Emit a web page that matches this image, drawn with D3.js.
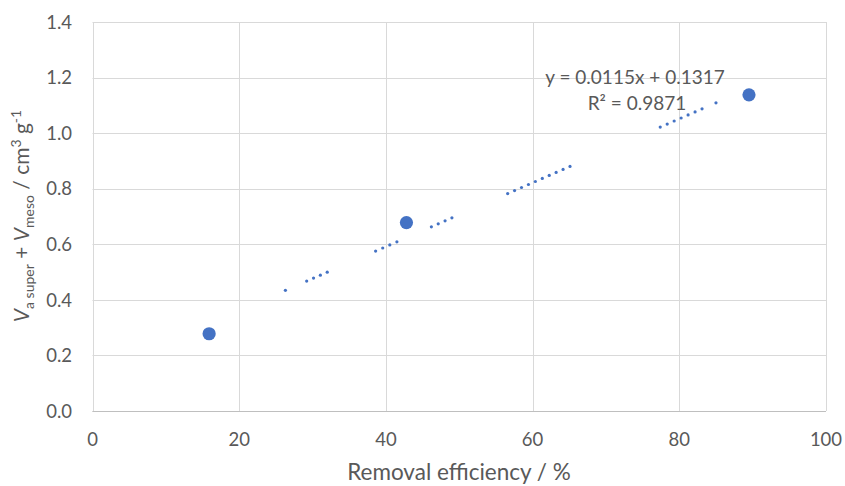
<!DOCTYPE html>
<html><head><meta charset="utf-8">
<script src="https://cdn.jsdelivr.net/npm/d3@7"></script>
<style>body{margin:0;background:#fff}svg{display:block}text{font-family:Lato,"Open Sans",sans-serif;fill:#595959}</style>
</head><body><svg id="c" width="845" height="486"></svg>
<script>
const removalEfficiency = [15.9, 42.8, 89.5];
const poreVolume = [0.278, 0.678, 1.138];
const xTicks = [0, 20, 40, 60, 80, 100];
const yTicks = [0, 0.2, 0.4, 0.6, 0.8, 1.0, 1.2, 1.4];
const trendSlope = 0.0115, trendIntercept = 0.1317;
const trendEquation = "y = 0.0115x + 0.1317";
const trendR2 = "R² = 0.9871";
// visible pieces of the dotted trendline (x ranges)
const trendSegments = [[26.3, 26.3], [29.2, 32.0], [38.6, 41.5], [46.2, 49.0], [56.6, 65.1], [77.4, 83.1], [85.0, 85.0]];

const svg = d3.select("#c");
const x = d3.scaleLinear().domain([0, 100]).range([92.5, 826]);
const y = d3.scaleLinear().domain([0, 1.4]).range([411, 22]);

// grid
svg.append("g").selectAll("line").data(yTicks).join("line")
  .attr("x1", x(0)).attr("x2", x(100)).attr("y1", d => Math.round(y(d)) + 0.5).attr("y2", d => Math.round(y(d)) + 0.5)
  .attr("stroke", "#D9D9D9").attr("stroke-width", 1);
svg.append("g").selectAll("line").data(xTicks).join("line")
  .attr("y1", y(1.4)).attr("y2", y(0)).attr("x1", d => Math.round(x(d)) + 0.5).attr("x2", d => Math.round(x(d)) + 0.5)
  .attr("stroke", "#D9D9D9").attr("stroke-width", 1);
svg.append("line").attr("x1", x(0)).attr("x2", x(100)).attr("y1", Math.round(y(0)) + 0.5).attr("y2", Math.round(y(0)) + 0.5).attr("stroke", "#BFBFBF");

// tick labels
svg.append("g").selectAll("text").data(yTicks).join("text")
  .attr("x", 72).attr("y", d => y(d)).attr("dy", "0.36em").attr("text-anchor", "end")
  .attr("font-size", 18.5).text(d => d.toFixed(1));
svg.append("g").selectAll("text").data(xTicks).join("text")
  .attr("x", d => x(d)).attr("y", 439.5).attr("dy", "0.36em").attr("text-anchor", "middle")
  .attr("font-size", 18.5).text(d => d);

// axis titles
svg.append("text").attr("x", 459).attr("y", 472).attr("dy", "0.36em").attr("text-anchor", "middle")
  .attr("font-size", 22.5).text("Removal efficiency / %");
const yt = svg.append("text").attr("transform", "translate(29,216) rotate(-90)").attr("text-anchor", "middle").attr("font-size", 21);
yt.append("tspan").attr("font-style", "italic").text("V");
yt.append("tspan").attr("font-size", 14).attr("dy", 5).text("a super");
yt.append("tspan").attr("dy", -5).text(" + ");
yt.append("tspan").attr("font-style", "italic").text("V");
yt.append("tspan").attr("font-size", 14).attr("dy", 5).text("meso");
yt.append("tspan").attr("dy", -5).text(" / cm");
yt.append("tspan").attr("font-size", 14).attr("dy", -8).text("3");
yt.append("tspan").attr("dy", 8).text(" g");
yt.append("tspan").attr("font-size", 14).attr("dy", -8).text("-1");

// trendline dots
const spacing = 7;
const dots = [];
trendSegments.forEach(([a, b]) => {
  const len = x(b) - x(a);
  const n = Math.max(1, Math.round(len / spacing) + 1);
  for (let i = 0; i < n; i++) dots.push(n === 1 ? a : a + (b - a) * i / (n - 1));
});
svg.append("g").selectAll("circle").data(dots).join("circle")
  .attr("cx", d => x(d)).attr("cy", d => y(trendSlope * d + trendIntercept)).attr("r", 1.6).attr("fill", "#4472C4");

// data points
svg.append("g").selectAll("circle").data(removalEfficiency).join("circle")
  .attr("cx", d => x(d)).attr("cy", (d, i) => y(poreVolume[i])).attr("r", 6.6).attr("fill", "#4472C4");

// equation
svg.append("text").attr("x", 635).attr("y", 77).attr("dy", "0.36em").attr("text-anchor", "middle").attr("font-size", 19).text(trendEquation);
svg.append("text").attr("x", 637).attr("y", 103).attr("dy", "0.36em").attr("text-anchor", "middle").attr("font-size", 19).text(trendR2);
</script></body></html>
